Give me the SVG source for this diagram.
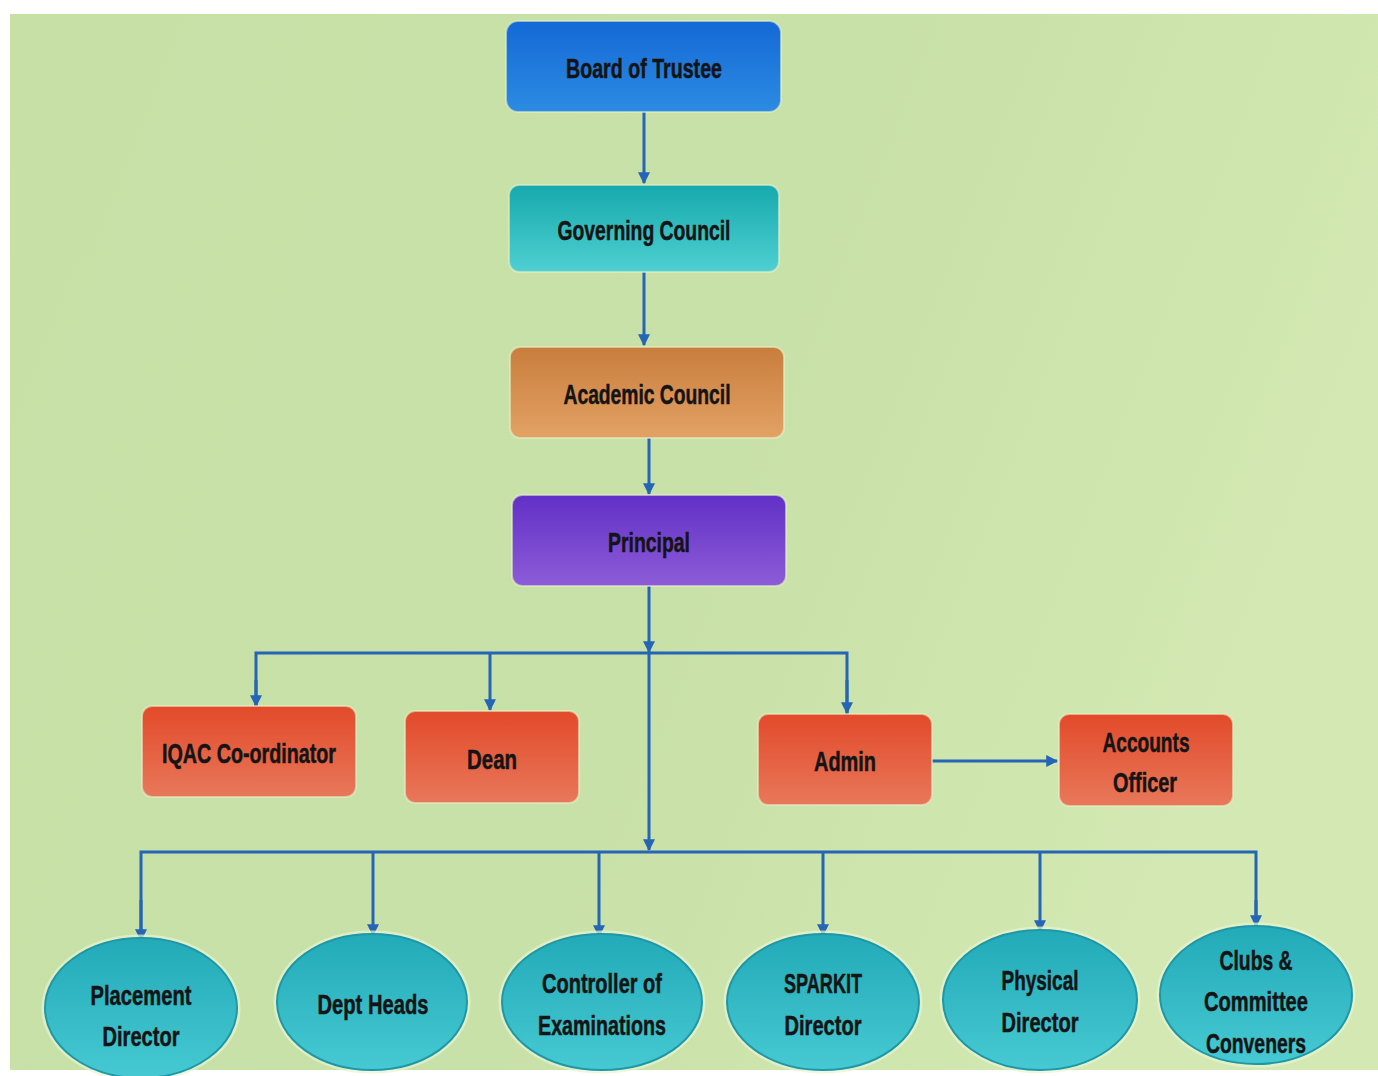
<svg xmlns="http://www.w3.org/2000/svg" width="1378" height="1076" viewBox="0 0 1378 1076">
<defs>
<linearGradient id="bg" x1="0" y1="0" x2="1" y2="0.3">
<stop offset="0" stop-color="#c6e0a6"/>
<stop offset="0.6" stop-color="#c8e1a8"/>
<stop offset="1" stop-color="#d3e8b2"/>
</linearGradient>
<linearGradient id="gBlue" x1="0" y1="0" x2="0" y2="1">
<stop offset="0" stop-color="#1469d6"/>
<stop offset="1" stop-color="#2c8be2"/>
</linearGradient>
<linearGradient id="gTeal" x1="0" y1="0" x2="0" y2="1">
<stop offset="0" stop-color="#16a9ad"/>
<stop offset="1" stop-color="#4fd0d2"/>
</linearGradient>
<linearGradient id="gOrange" x1="0" y1="0" x2="0" y2="1">
<stop offset="0" stop-color="#c87d3c"/>
<stop offset="1" stop-color="#e3a265"/>
</linearGradient>
<linearGradient id="gPurple" x1="0" y1="0" x2="0" y2="1">
<stop offset="0" stop-color="#6130c6"/>
<stop offset="1" stop-color="#8c5cd8"/>
</linearGradient>
<linearGradient id="gRed" x1="0" y1="0" x2="0" y2="1">
<stop offset="0" stop-color="#e24a2a"/>
<stop offset="1" stop-color="#e8785a"/>
</linearGradient>
<linearGradient id="gEll" x1="0" y1="0" x2="0" y2="1">
<stop offset="0" stop-color="#22aab8"/>
<stop offset="1" stop-color="#46c9d2"/>
</linearGradient>
<marker id="arr" viewBox="0 0 10 10" refX="9" refY="5" markerWidth="4" markerHeight="4" orient="auto" markerUnits="strokeWidth">
<path d="M0,0 L10,5 L0,10 z" fill="#2565b5"/>
</marker>
</defs>
<style>
.box{stroke:#e6f0c8;stroke-width:2;stroke-opacity:0.6}
.ell{fill:url(#gEll);stroke:#1e98a8;stroke-width:2}
.glow{fill:none;stroke:#e8f4d0;stroke-width:3;stroke-opacity:0.7}
.t{font-family:"Liberation Sans",Arial,sans-serif;font-weight:bold;font-size:28px;fill:#141414;stroke:#141414;stroke-width:0.5;text-anchor:middle}
.ln{fill:none;stroke:#2565b5;stroke-width:3}
</style>
<rect width="1378" height="1076" fill="#ffffff"/>
<rect x="10" y="14" width="1368" height="1056" fill="url(#bg)"/>

<g id="connectors">
<line class="ln" x1="644" y1="112" x2="644" y2="183" marker-end="url(#arr)"/>
<line class="ln" x1="644" y1="272" x2="644" y2="345" marker-end="url(#arr)"/>
<line class="ln" x1="649" y1="438" x2="649" y2="494" marker-end="url(#arr)"/>
<line class="ln" x1="649" y1="586" x2="649" y2="652" marker-end="url(#arr)"/>
<line class="ln" x1="649" y1="653" x2="649" y2="850" marker-end="url(#arr)"/>
<polyline class="ln" points="256,706 256,653 847,653 847,714"/>
<line class="ln" x1="256" y1="680" x2="256" y2="706" marker-end="url(#arr)"/>
<line class="ln" x1="490" y1="653" x2="490" y2="710" marker-end="url(#arr)"/>
<line class="ln" x1="847" y1="680" x2="847" y2="713" marker-end="url(#arr)"/>
<line class="ln" x1="932" y1="761" x2="1057" y2="761" marker-end="url(#arr)"/>
<polyline class="ln" points="141,940 141,852 1256,852 1256,926"/>
<line class="ln" x1="141" y1="900" x2="141" y2="940" marker-end="url(#arr)"/>
<line class="ln" x1="373" y1="852" x2="373" y2="935" marker-end="url(#arr)"/>
<line class="ln" x1="599" y1="852" x2="599" y2="936" marker-end="url(#arr)"/>
<line class="ln" x1="823" y1="852" x2="823" y2="935" marker-end="url(#arr)"/>
<line class="ln" x1="1040" y1="852" x2="1040" y2="931" marker-end="url(#arr)"/>
<line class="ln" x1="1256" y1="900" x2="1256" y2="926" marker-end="url(#arr)"/>
</g>

<g id="board">
<rect class="box" x="506" y="21" width="275" height="91" rx="12" fill="url(#gBlue)"/>
<text class="t" x="644" y="78" textLength="156" lengthAdjust="spacingAndGlyphs">Board of Trustee</text>
</g>
<g id="governing">
<rect class="box" x="509" y="185" width="270" height="87" rx="10" fill="url(#gTeal)"/>
<text class="t" x="644" y="240" textLength="173" lengthAdjust="spacingAndGlyphs">Governing Council</text>
</g>
<g id="academic">
<rect class="box" x="510" y="347" width="274" height="91" rx="10" fill="url(#gOrange)"/>
<text class="t" x="647" y="404" textLength="167" lengthAdjust="spacingAndGlyphs">Academic Council</text>
</g>
<g id="principal">
<rect class="box" x="512" y="495" width="274" height="91" rx="10" fill="url(#gPurple)"/>
<text class="t" x="649" y="552" textLength="82" lengthAdjust="spacingAndGlyphs">Principal</text>
</g>
<g id="iqac">
<rect class="box" x="142" y="706" width="214" height="91" rx="10" fill="url(#gRed)"/>
<text class="t" x="249" y="763" textLength="174" lengthAdjust="spacingAndGlyphs">IQAC Co-ordinator</text>
</g>
<g id="dean">
<rect class="box" x="405" y="711" width="174" height="92" rx="10" fill="url(#gRed)"/>
<text class="t" x="492" y="769" textLength="50" lengthAdjust="spacingAndGlyphs">Dean</text>
</g>
<g id="admin">
<rect class="box" x="758" y="714" width="174" height="91" rx="10" fill="url(#gRed)"/>
<text class="t" x="845" y="771" textLength="62" lengthAdjust="spacingAndGlyphs">Admin</text>
</g>
<g id="accounts">
<rect class="box" x="1059" y="714" width="174" height="92" rx="10" fill="url(#gRed)"/>
<text class="t" x="1146" y="752" textLength="87" lengthAdjust="spacingAndGlyphs">Accounts</text>
<text class="t" x="1145" y="792" textLength="64" lengthAdjust="spacingAndGlyphs">Officer</text>
</g>

<g id="placement">
<ellipse class="glow" cx="141" cy="1008" rx="98" ry="72"/>
<ellipse class="ell" cx="141" cy="1008" rx="96" ry="70"/>
<text class="t" x="141" y="1005" textLength="101" lengthAdjust="spacingAndGlyphs">Placement</text>
<text class="t" x="141" y="1046" textLength="77" lengthAdjust="spacingAndGlyphs">Director</text>
</g>
<g id="depthead">
<ellipse class="glow" cx="372" cy="1002" rx="97" ry="70"/>
<ellipse class="ell" cx="372" cy="1002" rx="95" ry="68"/>
<text class="t" x="373" y="1014" textLength="111" lengthAdjust="spacingAndGlyphs">Dept Heads</text>
</g>
<g id="controller">
<ellipse class="glow" cx="602" cy="1002" rx="102" ry="70"/>
<ellipse class="ell" cx="602" cy="1002" rx="100" ry="68"/>
<text class="t" x="602" y="993" textLength="120" lengthAdjust="spacingAndGlyphs">Controller of</text>
<text class="t" x="602" y="1035" textLength="128" lengthAdjust="spacingAndGlyphs">Examinations</text>
</g>
<g id="sparkit">
<ellipse class="glow" cx="823" cy="1002" rx="98" ry="70"/>
<ellipse class="ell" cx="823" cy="1002" rx="96" ry="68"/>
<text class="t" x="823" y="993" textLength="78" lengthAdjust="spacingAndGlyphs">SPARKIT</text>
<text class="t" x="823" y="1035" textLength="77" lengthAdjust="spacingAndGlyphs">Director</text>
</g>
<g id="physical">
<ellipse class="glow" cx="1040" cy="1000" rx="99" ry="72"/>
<ellipse class="ell" cx="1040" cy="1000" rx="97" ry="70"/>
<text class="t" x="1040" y="990" textLength="77" lengthAdjust="spacingAndGlyphs">Physical</text>
<text class="t" x="1040" y="1032" textLength="77" lengthAdjust="spacingAndGlyphs">Director</text>
</g>
<g id="clubs">
<ellipse class="glow" cx="1256" cy="995" rx="98" ry="71"/>
<ellipse class="ell" cx="1256" cy="995" rx="96" ry="69"/>
<text class="t" x="1256" y="970" textLength="73" lengthAdjust="spacingAndGlyphs">Clubs &amp;</text>
<text class="t" x="1256" y="1011" textLength="104" lengthAdjust="spacingAndGlyphs">Committee</text>
<text class="t" x="1256" y="1053" textLength="100" lengthAdjust="spacingAndGlyphs">Conveners</text>
</g>
</svg>
